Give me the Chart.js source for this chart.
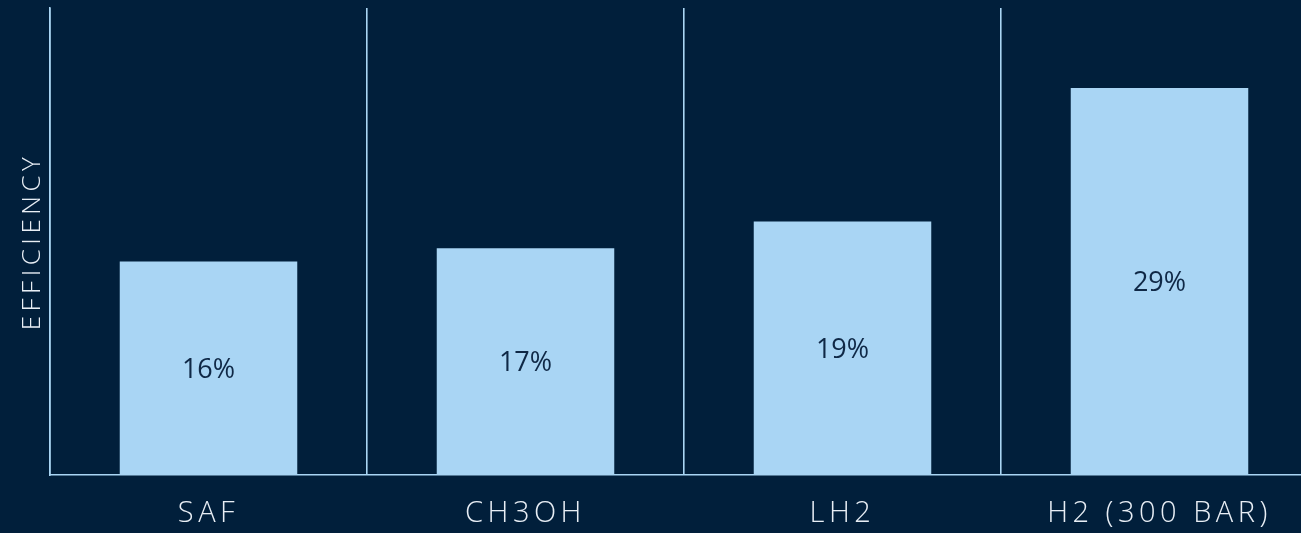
<!DOCTYPE html>
<html>
<head>
<meta charset="utf-8">
<script src="https://cdn.jsdelivr.net/npm/chart.js@4"></script>
<style>
  html, body { margin: 0; padding: 0; background: #011f3b; overflow: hidden; }
  #wrap { position: relative; width: 1320px; height: 533px; }
</style>
</head>
<body>
<div id="wrap"><canvas id="effChart"></canvas></div>
<script>
const categories = ['SAF', 'CH3OH', 'LH2', 'H2 (300 BAR)'];
const efficiency = [16, 17, 19, 29];
const valueLabels = ['16%', '17%', '19%', '29%'];

const NAVY = '#011f3b';
const LIGHT = '#a9d5f4';
const FONT = "'Open Sans', 'DejaVu Sans', sans-serif";

// draws the % label in the middle of each bar
const barLabels = {
  id: 'barLabels',
  afterDatasetsDraw(chart) {
    const ctx = chart.ctx;
    const meta = chart.getDatasetMeta(0);
    ctx.save();
    ctx.letterSpacing = '0px';
    ctx.font = `400 27px ${FONT}`;
    ctx.fillStyle = '#0f2846';
    ctx.textAlign = 'center';
    ctx.textBaseline = 'middle';
    meta.data.forEach((bar, i) => {
      const { x, y, base } = bar.getProps(['x', 'y', 'base'], true);
      ctx.fillText(valueLabels[i], x, (y + base) / 2 + 2);
    });
    ctx.restore();
  }
};

// letter spacing for axis texts
const spacing = {
  id: 'spacing',
  beforeDraw(chart) { chart.ctx.letterSpacing = '4.5px'; },
  afterDraw(chart) { chart.ctx.letterSpacing = '0px'; }
};

new Chart(document.getElementById('effChart'), {
  type: 'bar',
  data: {
    labels: categories,
    datasets: [{
      data: efficiency,
      backgroundColor: LIGHT,
      borderWidth: 0,
      categoryPercentage: 0.56,
      barPercentage: 1
    }]
  },
  options: {
    responsive: true,
    maintainAspectRatio: false,
    animation: false,
    layout: { padding: { top: 8, right: 2, left: 0, bottom: 0 } },
    plugins: { legend: { display: false }, tooltip: { enabled: false } },
    scales: {
      x: {
        grid: { display: true, offset: true, color: LIGHT, lineWidth: 1.6, drawTicks: false },
        border: { display: true, color: LIGHT, width: 1.6 },
        ticks: { color: '#e8eef5', font: { family: FONT, size: 29, weight: 300 }, padding: 21 },
        afterFit(scale) { scale.height = 58; }
      },
      y: {
        min: 0,
        max: 35,
        grid: { display: false },
        border: { display: true, color: LIGHT, width: 1.6 },
        ticks: { display: false },
        title: {
          display: true,
          text: 'EFFICIENCY',
          color: '#e8eef5',
          font: { family: FONT, size: 26, weight: 300 },
          padding: { top: 17, bottom: 0 }
        },
        afterFit(scale) { scale.width = 50; }
      }
    }
  },
  plugins: [spacing, barLabels]
});
</script>
</body>
</html>
